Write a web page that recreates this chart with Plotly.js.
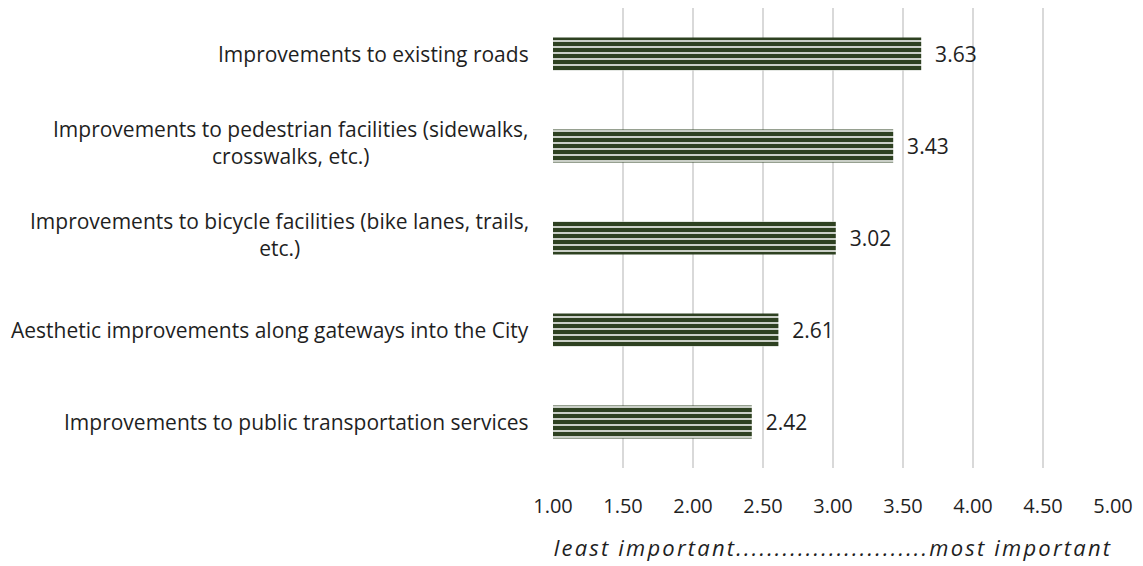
<!DOCTYPE html>
<html><head><meta charset="utf-8">
<script src="https://cdn.plot.ly/plotly-3.0.1.min.js"></script>
<style>body{margin:0;background:#fff}#c{width:1143px;height:566px}
#c .xtitle{letter-spacing:2.2px}</style>
</head><body><div id="c"></div>
<script>
const categories = [
  "Improvements to public transportation services",
  "Aesthetic improvements along gateways into the City",
  "Improvements to bicycle facilities (bike lanes, trails,<br>etc.)",
  "Improvements to pedestrian facilities (sidewalks,<br>crosswalks, etc.)",
  "Improvements to existing roads"
];
const values = [2.42, 2.61, 3.02, 3.43, 3.63];
const tickVals = [1, 1.5, 2, 2.5, 3, 3.5, 4, 4.5, 5];
const tickText = ["1.00","1.50","2.00","2.50","3.00","3.50","4.00","4.50","5.00"];
const axisTitle = "least important.........................most important";

const font = "Open Sans, sans-serif";
const txt = "#1f1f1f";
const trace = {
  type: "bar", orientation: "h",
  y: categories.map((c,i)=>i), x: values.map(v=>v-1), base: 1,
  width: 0.36,
  marker: {color: "#2E4121", line: {width: 0},
    pattern: {shape: "-", bgcolor: "#2E4121", fgcolor: "#ffffff", size: 6, solidity: 0.25, fillmode: "replace"}},
  text: values.map(v=>"\u00a0\u00a0" + v.toFixed(2)), textposition: "outside",
  textfont: {family: font, size: 21, color: txt},
  cliponaxis: false, hoverinfo: "none"
};
const annotations = categories.map((c,i)=>({
  xref: "paper", yref: "y", x: 0, y: i, xanchor: "right", yanchor: "middle",
  xshift: -22, yshift: c.indexOf("<br>") >= 0 ? 4 : 0, text: c, showarrow: false, align: "center",
  font: {family: font, size: 21, color: txt}
}));
const layout = {
  width: 1143, height: 566,
  margin: {l: 553, r: 30, t: 8, b: 98},
  paper_bgcolor: "#fff", plot_bgcolor: "#fff",
  showlegend: false,
  xaxis: {range: [1, 5], tickvals: tickVals, ticktext: tickText,
    showgrid: true, gridcolor: "#d9d9d9", gridwidth: 2, zeroline: false,
    showline: false, ticks: "", ticklabelstandoff: 24,
    tickfont: {family: font, size: 20, color: txt},
    title: {text: axisTitle, standoff: 22, font: {family: font, size: 22, color: txt, style: "italic"}}},
  yaxis: {range: [-0.5, 4.5], showticklabels: false, showgrid: false, zeroline: false, showline: false, ticks: ""},
  annotations: annotations
};
Plotly.newPlot("c", [trace], layout, {displayModeBar: false, staticPlot: true});
</script></body></html>
